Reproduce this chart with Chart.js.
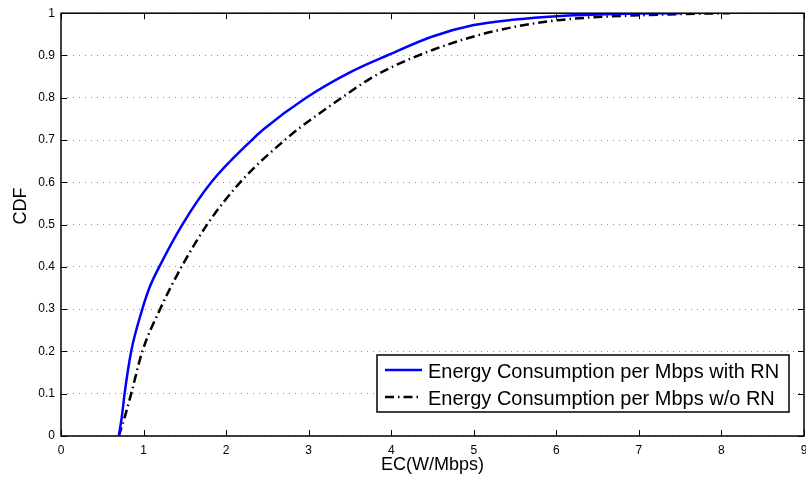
<!DOCTYPE html>
<html>
<head>
<meta charset="utf-8">
<script src="https://cdn.jsdelivr.net/npm/chart.js@4.4.1/dist/chart.umd.min.js"></script>
<style>
  html, body { margin: 0; padding: 0; background: #fff; }
  #cdf-chart { display: block; }
</style>
</head>
<body>
<canvas id="cdf-chart" width="806" height="483"></canvas>
<script>
// EC values (W/Mbps) and the CDF level reached at each one
const ecWithRN = [0.70, 0.74, 0.77, 0.85, 0.985, 1.07, 1.19, 1.47, 1.82, 2.31, 2.45, 2.97, 3.50, 3.95, 4.50, 5.00, 5.50, 6.00, 6.50, 7.00, 7.50];
const cdfWithRN = [0, 0.05, 0.10, 0.20, 0.30, 0.35, 0.40, 0.50, 0.60, 0.70, 0.725, 0.80, 0.86, 0.90, 0.945, 0.972, 0.985, 0.993, 0.997, 0.999, 1.0];

const ecWithoutRN = [0.70, 0.78, 0.85, 0.985, 1.20, 1.46, 1.77, 2.17, 2.71, 2.90, 3.40, 3.75, 4.00, 4.50, 5.00, 5.50, 6.00, 6.50, 7.00, 7.50, 8.10];
const cdfWithoutRN = [0, 0.05, 0.10, 0.20, 0.30, 0.40, 0.50, 0.60, 0.70, 0.73, 0.80, 0.846, 0.872, 0.913, 0.945, 0.968, 0.983, 0.991, 0.995, 0.998, 1.0];

const seriesLabels = ['Energy Consumption per Mbps with RN', 'Energy Consumption per Mbps w/o RN'];
const xTickValues = [0, 1, 2, 3, 4, 5, 6, 7, 8, 9];
const yTickValues = [0, 0.1, 0.2, 0.3, 0.4, 0.5, 0.6, 0.7, 0.8, 0.9, 1];

const toPoints = (xs, ys) => xs.map((x, i) => ({ x: x, y: ys[i] }));

Chart.defaults.font.family = '"Liberation Sans", Arial, Helvetica, sans-serif';
Chart.defaults.color = '#000';

// Box around the axes, inward tick marks and the y title
const axesFrame = {
    id: 'axesFrame',
    afterDatasetsDraw(chart) {
        const { ctx, chartArea: area, scales } = chart;
        ctx.save();
        ctx.strokeStyle = '#000';
        ctx.lineWidth = 1;
        ctx.beginPath();
        xTickValues.forEach(v => {
            const px = Math.round(scales.x.getPixelForValue(v)) + 0.5;
            ctx.moveTo(px, area.bottom);
            ctx.lineTo(px, area.bottom - 6);
            ctx.moveTo(px, area.top);
            ctx.lineTo(px, area.top + 6);
        });
        yTickValues.forEach(v => {
            const py = Math.round(scales.y.getPixelForValue(v)) + 0.5;
            ctx.moveTo(area.left, py);
            ctx.lineTo(area.left + 6, py);
            ctx.moveTo(area.right, py);
            ctx.lineTo(area.right - 6, py);
        });
        ctx.stroke();

        ctx.lineWidth = 1.5;
        ctx.strokeRect(area.left, area.top, area.right - area.left, area.bottom - area.top);

        ctx.translate(21, 206);
        ctx.rotate(-Math.PI / 2);
        ctx.font = '18px "Liberation Sans", Arial, sans-serif';
        ctx.fillStyle = '#000';
        ctx.textAlign = 'center';
        ctx.textBaseline = 'middle';
        ctx.fillText('CDF', 0, 0);
        ctx.restore();
    }
};

// Legend box in the lower right corner of the plot
const boxLegend = {
    id: 'boxLegend',
    afterDraw(chart) {
        const { ctx } = chart;
        const box = { left: 377, top: 355, width: 412, height: 57 };
        ctx.save();
        ctx.fillStyle = '#fff';
        ctx.fillRect(box.left, box.top, box.width, box.height);
        ctx.strokeStyle = '#000';
        ctx.lineWidth = 1.5;
        ctx.strokeRect(box.left, box.top, box.width, box.height);

        ctx.font = '20px "Liberation Sans", Arial, sans-serif';
        ctx.textBaseline = 'alphabetic';
        ctx.textAlign = 'left';
        chart.data.datasets.forEach((ds, i) => {
            const rowY = box.top + 15 + i * 27;
            ctx.strokeStyle = ds.borderColor;
            ctx.lineWidth = ds.borderWidth;
            ctx.setLineDash(ds.borderDash || []);
            ctx.beginPath();
            ctx.moveTo(box.left + 8, rowY);
            ctx.lineTo(box.left + 45, rowY);
            ctx.stroke();
            ctx.setLineDash([]);
            ctx.fillStyle = '#000';
            ctx.fillText(ds.label, box.left + 51, rowY + 8);
        });
        ctx.restore();
    }
};

new Chart(document.getElementById('cdf-chart'), {
    type: 'line',
    data: {
        datasets: [{
            label: seriesLabels[0],
            data: toPoints(ecWithRN, cdfWithRN),
            borderColor: '#0000ff',
            borderWidth: 2.5,
            pointRadius: 0,
            cubicInterpolationMode: 'monotone',
            fill: false,
        }, {
            label: seriesLabels[1],
            data: toPoints(ecWithoutRN, cdfWithoutRN),
            borderColor: '#000000',
            borderWidth: 2.5,
            borderDash: [9, 4, 1.5, 4],
            pointRadius: 0,
            cubicInterpolationMode: 'monotone',
            fill: false,
        }],
    },
    options: {
        responsive: false,
        animation: false,
        devicePixelRatio: 1,
        layout: { padding: { top: 13, right: 2, left: 0, bottom: 0 } },
        plugins: {
            legend: { display: false },
            tooltip: { enabled: false },
        },
        scales: {
            x: {
                type: 'linear',
                min: 0,
                max: 9,
                afterBuildTicks: scale => { scale.ticks = xTickValues.map(v => ({ value: v })); },
                afterFit: scale => {
                    scale.height = 47;
                    // let the last label run past the plot edge
                    scale.paddingLeft = 0;
                    scale.paddingRight = 0;
                },
                grid: { display: false, drawTicks: false },
                border: { display: false },
                ticks: { padding: 7, font: { size: 12 }, maxRotation: 0, callback: v => String(v) },
                title: {
                    display: true,
                    text: 'EC(W/Mbps)',
                    font: { size: 18 },
                    padding: { top: 0, bottom: 7 },
                },
            },
            y: {
                min: 0,
                max: 1,
                afterBuildTicks: scale => { scale.ticks = yTickValues.map(v => ({ value: v })); },
                afterFit: scale => { scale.width = 61; },
                grid: { color: '#8c8c8c', lineWidth: 1, drawTicks: false },
                border: { display: false, dash: [1, 5] },
                ticks: {
                    padding: 6,
                    font: { size: 12 },
                    callback: v => (v === 0 || v === 1) ? String(v) : v.toFixed(1),
                },
            },
        },
    },
    plugins: [axesFrame, boxLegend],
});
</script>
</body>
</html>
